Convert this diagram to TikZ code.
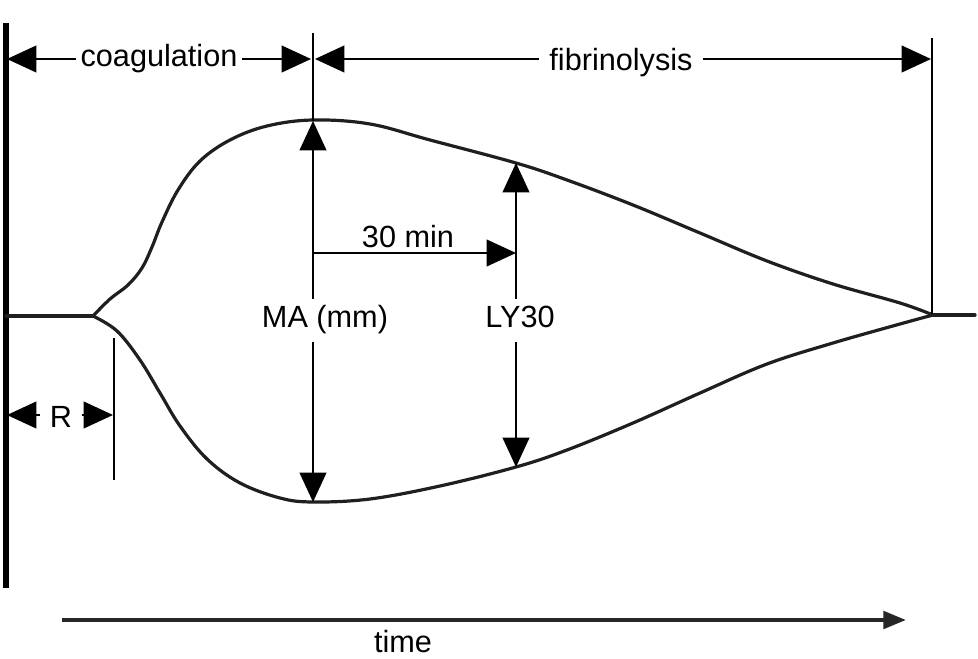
\documentclass[tikz,border=0pt]{standalone}
\usepackage{fontspec}
\setmainfont{Liberation Sans}
\usetikzlibrary{arrows.meta}
\begin{document}
\begin{tikzpicture}[x=0.75pt,y=-0.75pt,
  lbl/.style={font=\fontsize{23}{27}\selectfont, inner xsep=3pt, inner ysep=5pt, text height=16.5pt, text depth=5.5pt},
  plainlbl/.style={font=\fontsize{23}{27}\selectfont, inner sep=0pt},
  rule/.style={line width=1.5pt},
  dim/.style={rule,-{Triangle[length=22pt,width=20pt]}},
  curve/.style={line width=2.4pt, line join=round, line cap=round, black!88},
  axis/.style={line width=3.8pt},
  timearrow/.style={line width=3.2pt, black!85, -{Triangle[length=17pt,width=13pt]}}]
\useasboundingbox (0,0) rectangle (978,659);

% axes
\coordinate (ax0) at (6,23);
\coordinate (ax1) at (6,588);
\draw[axis] (ax0) -- (ax1);
\coordinate (t0) at (62,620);
\coordinate (t1) at (906,620);
\draw[timearrow] (t0) -- (t1);
\node[plainlbl, anchor=base] (time) at (403,652) {time};

% baseline and curves
\coordinate (b0) at (6,316);
\coordinate (split) at (93,316);
\coordinate (join) at (933,315);
\coordinate (b1) at (975,315);
\draw[curve] (b0) -- (split);
\draw[curve] (join) -- (b1);
\draw[curve] plot[smooth, tension=0.6] coordinates {(93,316) (110,299) (128,285) (142,268) (152,247) (162,222) (178,190) (200,161) (230,140) (267,126) (313,120) (370,124) (430,140) (516,163) (567,180) (633,205) (700,233) (767,261) (833,284) (900,303) (933,315)};
\draw[curve] plot[smooth, tension=0.6] coordinates {(93,316) (117,331) (140,360) (160,393) (180,426) (207,459) (240,483) (280,498) (313,502) (370,499) (440,486) (516,467) (567,450) (633,423) (700,393) (767,364) (833,343) (900,324) (933,315)};

% top dimension lines
\coordinate (vTop) at (313,33);
\coordinate (maT) at (313,121);
\coordinate (maB) at (313,502);
\coordinate (rTop) at (932,38);
\coordinate (rBot) at (932,314);
\draw[rule] (vTop) -- (maT);
\draw[rule] (rTop) -- (rBot);

\coordinate (cL) at (7,59);
\coordinate (cR) at (311,59);
\coordinate (fL) at (315,59);
\coordinate (fR) at (931,59);
\node[lbl, anchor=base] (coag) at (159,67) {coagulation};
\node[lbl, anchor=base, inner xsep=7.5pt] (fib) at (621,71) {fibrinolysis};
\draw[dim] (coag.west |- cL) -- (cL);
\draw[dim] (coag.east |- cL) -- (cR);
\draw[dim] (fib.west |- fL) -- (fL);
\draw[dim] (fib.east |- fR) -- (fR);

% MA
\node[lbl, anchor=base] (ma) at (325,328) {MA (mm)};
\draw[dim] (maT |- ma.north) -- (maT);
\draw[dim] (maB |- ma.south) -- (maB);

% 30 min
\coordinate (mA) at (313,253);
\coordinate (mB) at (516,253);
\node[plainlbl, anchor=base] (min) at (408,248) {30 min};
\draw[dim] (mA) -- (mB);

% LY30
\coordinate (lyT) at (516,163);
\coordinate (lyB) at (516,467);
\node[lbl, anchor=base] (ly) at (520,328) {LY30};
\draw[dim] (lyT |- ly.north) -- (lyT);
\draw[dim] (lyB |- ly.south) -- (lyB);

% R
\coordinate (rvT) at (114,338);
\coordinate (rvB) at (114,480);
\draw[rule] (rvT) -- (rvB);
\coordinate (rL) at (7,415);
\coordinate (rR) at (113,415);
\node[lbl, anchor=base, inner xsep=7pt] (r) at (61,427) {R};
\draw[dim] (r.west |- rL) -- (rL);
\draw[dim] (r.east |- rR) -- (rR);
\end{tikzpicture}
\end{document}
